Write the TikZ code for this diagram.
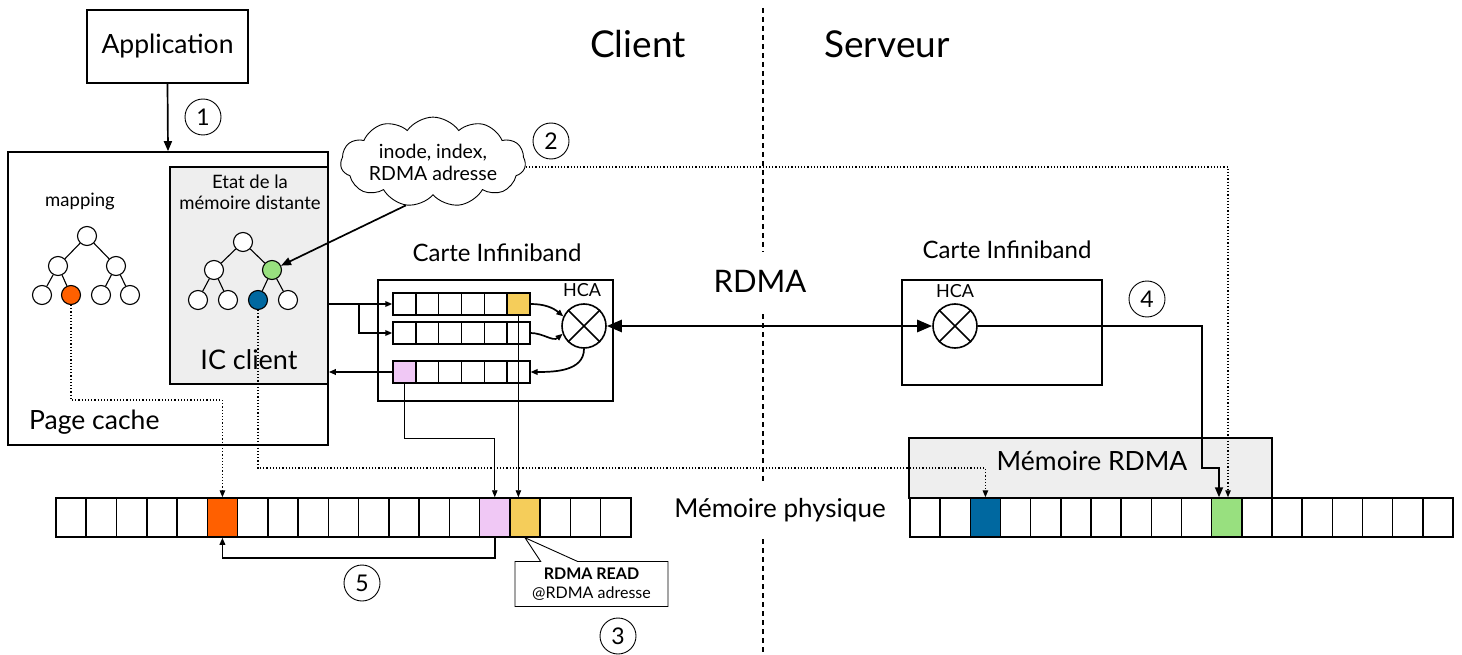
\documentclass[tikz,border=0pt]{standalone}
\usepackage{fontspec}
\setmainfont{Lato}
\usetikzlibrary{arrows.meta,shapes.symbols,shapes.callouts,calc}
\newcommand\fsz[2]{\fontsize{#1}{#2}\selectfont}
\definecolor{cOrange}{HTML}{FF6000}
\definecolor{cYellow}{HTML}{F5CD5A}
\definecolor{cPink}{HTML}{F0C8F5}
\definecolor{cGreen}{HTML}{98E07F}
\definecolor{cBlue}{HTML}{0068A0}
\definecolor{cGray}{HTML}{EEEEEE}
\tikzset{
  box/.style={draw, line width=1.6pt, inner sep=0},
  tn/.style={circle, draw, line width=1.1pt, minimum size=19pt, inner sep=0, fill=white},
  num/.style={circle, draw, line width=0.9pt, minimum size=36pt, inner sep=0, font=\fsz{23}{27}},
  mcell/.style={draw, line width=1.5pt, minimum width=30.2pt, minimum height=39pt, inner sep=0, fill=white},
  qcell/.style={draw, line width=1.4pt, minimum width=22.8pt, minimum height=22pt, inner sep=0, fill=white},
  hca/.style={circle, draw, line width=1.6pt, minimum size=44pt, inner sep=0},
  tip/.style={-{Triangle[length=10pt,width=8pt]}},
  stip/.style={-{Triangle[length=7pt,width=5.5pt]}},
  dotl/.style={dotted, line width=1.2pt},
  thinl/.style={line width=0.9pt},
  thickl/.style={line width=1.7pt},
  lbl/.style={inner sep=0},
}
\begin{document}
\begin{tikzpicture}[x=1pt,y=-1pt]
\useasboundingbox (0,0) rectangle (1462,655);

% divider
\draw[line width=1.6pt, dash pattern=on 5pt off 4pt] (763,8) -- (763,655);

% titles
\node[lbl, font=\fsz{37}{44}] (client) at (638,44) {Client};
\node[lbl, font=\fsz{37}{44}] (serveur) at (887,44) {Serveur};

% Application & page cache
\node[box, minimum width=161pt, minimum height=73pt, font=\fsz{26.5}{31}] (app) at (167.5,46.5) {Application};
\node[box, minimum width=320pt, minimum height=293pt] (pc) at (168,298.5) {};
\node[lbl, font=\fsz{26.5}{31}, anchor=west] (pctext) at (29,422) {Page cache};
\node[box, fill=cGray, minimum width=158pt, minimum height=217pt] (ic) at (249,275.5) {};
\node[lbl, font=\fsz{18.5}{21}, align=center] (etat) at (250,192) {Etat de la\\mémoire distante};
\node[lbl, font=\fsz{27}{32}] (ictext) at (249,360) {IC client};
\node[lbl, font=\fsz{18.5}{21}] (mapping) at (80,201) {mapping};

\draw[thickl, tip] (app.south) -- (pc.north);
\node[num] (n1) at (203,117) {1};

% left tree
\node[tn] (L0) at (87,236) {};
\node[tn] (L1) at (58,266) {};
\node[tn] (L2) at (116,266) {};
\node[tn] (L3) at (42,295) {};
\node[tn, fill=cOrange] (L4) at (71,295) {};
\node[tn] (L5) at (101,295) {};
\node[tn] (L6) at (130,295) {};
\draw[line width=1.1pt] (L0) -- (L1) (L0) -- (L2) (L1) -- (L3) (L1) -- (L4) (L2) -- (L5) (L2) -- (L6);

% right tree
\node[tn] (R0) at (243,242) {};
\node[tn] (R1) at (214,270) {};
\node[tn, fill=cGreen] (R2) at (272,270) {};
\node[tn] (R3) at (198,300) {};
\node[tn] (R4) at (228,300) {};
\node[tn, fill=cBlue] (R5) at (258,300) {};
\node[tn] (R6) at (288,300) {};
\draw[line width=1.1pt] (R0) -- (R1) (R0) -- (R2) (R1) -- (R3) (R1) -- (R4) (R2) -- (R5) (R2) -- (R6);

% cloud
\node[cloud, draw, line width=0.9pt, cloud puffs=11, cloud puff arc=110, aspect=2.4, minimum width=185pt, minimum height=82pt, inner sep=-6pt, font=\fsz{19.5}{22}, align=center] (cloud) at (433,162) {inode, index,\\RDMA adresse};
\node[num] (n2) at (551,141) {2};
\draw[thickl, tip] (cloud.238) -- (R2);

% left Infiniband card
\node[lbl, font=\fsz{24}{28}] (cardLt) at (497,253) {Carte Infiniband};
\node[box, minimum width=235pt, minimum height=121pt] (cardL) at (495.5,340.5) {};
\foreach \r/\y in {1/304,2/333,3/372} {
  \foreach \i in {1,...,6} {
    \node[qcell] (q\r c\i) at ({393+(\i-0.5)*22.8},\y) {};
  }
}
\node[qcell, fill=cYellow] at (q1c6) {};
\node[qcell, fill=cPink] at (q3c1) {};
\node[hca] (hcaL) at (584,326) {};
\draw[thickl] (hcaL.north west) -- (hcaL.south east) (hcaL.north east) -- (hcaL.south west);
\node[lbl, font=\fsz{18}{21}] (hcaLt) at (582,290) {HCA};

\draw[thickl, stip] (ic.east |- q1c1.west) -- (q1c1.west);
\coordinate (j1) at (359,304);
\draw[thickl, stip] (j1) |- (q2c1.west);
\draw[thickl, stip] (q3c1.west) -- (ic.east |- q3c1.west);
\draw[thickl, stip] (q1c6.east) to[out=0, in=140] (hcaL.155);
\draw[thickl, stip] (q2c6.east) to[out=0, in=220] (hcaL.200);
\draw[thickl, stip] (hcaL.south) to[out=-90, in=0] (q3c6.east);

% RDMA link
\node[lbl, font=\fsz{31}{36}, fill=white, minimum height=58pt, minimum width=40pt] (rdma) at (760,281) {RDMA};
\node[lbl, font=\fsz{24}{28}] (cardRt) at (1007,250) {Carte Infiniband};
\node[box, minimum width=200pt, minimum height=105pt] (cardR) at (1002,332.5) {};
\node[hca] (hcaR) at (955,326) {};
\draw[thickl] (hcaR.north west) -- (hcaR.south east) (hcaR.north east) -- (hcaR.south west);
\node[lbl, font=\fsz{18}{21}] (hcaRt) at (955,291) {HCA};
\draw[line width=2.6pt, {Triangle[length=15pt,width=12pt]}-{Triangle[length=15pt,width=12pt]}] (hcaL.east) -- (hcaR.west);
\node[num] (n4) at (1147,299) {4};

% server memory
\node[box, fill=cGray, minimum width=363pt, minimum height=60pt] (memR) at (1090.5,468) {};
\node[lbl, font=\fsz{26.5}{31}] (memRt) at (1092,461) {Mémoire RDMA};
\foreach \i in {1,...,18} {
  \node[mcell] (mr\i) at ({910+(\i-0.5)*30.17},517.5) {};
}
\node[mcell, fill=cBlue] at (mr3) {};
\node[mcell, fill=cGreen] at (mr11) {};
\node[lbl, font=\fsz{26}{30}, fill=white, minimum height=52pt] (physt) at (780,510) {Mémoire physique};

% client memory
\foreach \i in {1,...,19} {
  \node[mcell] (ml\i) at ({56+(\i-0.5)*30.26},517.5) {};
}
\node[mcell, fill=cOrange] at (ml6) {};
\node[mcell, fill=cPink] at (ml15) {};
\node[mcell, fill=cYellow] at (ml16) {};

% connectors to memories
\coordinate (o1) at (71,400);
\draw[dotl, stip] (L4.south) -- (L4.south |- o1) -| (ml6.north);
\coordinate (b1) at (258,468);
\draw[dotl, stip] (R5.south) -- (R5.south |- b1) -| (mr3.north);
\coordinate (g1) at (1228,167);
\draw[dotl, stip] (cloud.east |- g1) -- (g1) -- (g1 |- mr11.north);
\coordinate (s1) at (1202,468);
\coordinate (s2) at (1219,468);
\draw[thickl, tip] (hcaR.east) -| (s1) -- (s2) -- (s2 |- mr11.north);
\coordinate (p1) at (405,438);
\draw[thinl, stip] (q3c1.south) -- (q3c1.south |- p1) -| (ml15.north);
\draw[thinl, stip] (q1c6.south) -- (q1c6.south |- ml16.north);
\coordinate (f1) at (300,558);
\draw[thickl, stip] (ml15.south) -- (ml15.south |- f1) -| (ml6.south);
\node[num] (n5) at (362,583) {5};

% callout
\node[rectangle callout, draw, line width=0.9pt, fill=white, minimum width=153pt, minimum height=45pt, inner sep=0, callout absolute pointer={(ml16.south)}, callout pointer width=37pt, align=center, font=\fsz{16}{19}] (callout) at (591.5,584) {\textbf{RDMA READ}\\@RDMA adresse};
\node[num] (n3) at (618,636) {3};
\end{tikzpicture}
\end{document}
